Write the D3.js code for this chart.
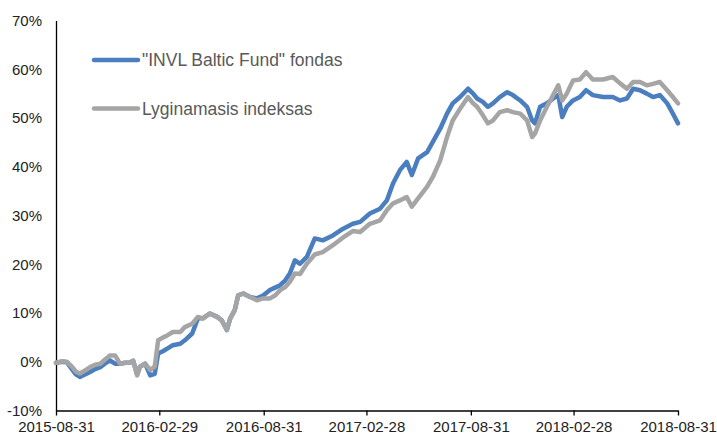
<!DOCTYPE html>
<html>
<head>
<meta charset="utf-8">
<script src="https://cdn.jsdelivr.net/npm/d3@7"></script>
<style>
  body { margin: 0; background: #fff; }
  svg { display: block; font-family: Arial, "Liberation Sans", sans-serif; }
</style>
</head>
<body>
<svg id="chart" width="717" height="438"></svg>
<script>
// values, % change since 2015-08-31
const dates = [
  '2015-08-31', '2015-09-11', '2015-09-19', '2015-09-28', '2015-10-05', '2015-10-12', '2015-10-21', '2015-10-30',
  '2015-11-08', '2015-11-17', '2015-11-25', '2015-12-04', '2015-12-13', '2015-12-22', '2015-12-31', '2016-01-08',
  '2016-01-14', '2016-01-21', '2016-01-26', '2016-02-04', '2016-02-13', '2016-02-21', '2016-02-27', '2016-03-07',
  '2016-03-14', '2016-03-24', '2016-04-06', '2016-04-14', '2016-04-27', '2016-05-07', '2016-05-16', '2016-05-28',
  '2016-06-10', '2016-06-18', '2016-06-27', '2016-07-03', '2016-07-11', '2016-07-17', '2016-07-26', '2016-08-07',
  '2016-08-19', '2016-08-30', '2016-09-11', '2016-09-20', '2016-09-29', '2016-10-08', '2016-10-16', '2016-10-25',
  '2016-11-03', '2016-11-15', '2016-11-29', '2016-12-13', '2016-12-31', '2017-01-18', '2017-02-04', '2017-02-17',
  '2017-03-06', '2017-03-24', '2017-04-05', '2017-04-16', '2017-04-28', '2017-05-10', '2017-05-19', '2017-05-30',
  '2017-06-15', '2017-06-25', '2017-07-08', '2017-07-20', '2017-07-30', '2017-08-12', '2017-08-26', '2017-09-04',
  '2017-09-11', '2017-09-21', '2017-09-30', '2017-10-09', '2017-10-21', '2017-11-03', '2017-11-13', '2017-11-26',
  '2017-12-08', '2017-12-17', '2017-12-22', '2017-12-31', '2018-01-12', '2018-01-23', '2018-02-01', '2018-02-08',
  '2018-02-16', '2018-02-27', '2018-03-11', '2018-03-22', '2018-04-03', '2018-04-21', '2018-05-08', '2018-05-21',
  '2018-06-02', '2018-06-13', '2018-06-25', '2018-07-07', '2018-07-18', '2018-07-30', '2018-08-12', '2018-08-22',
  '2018-08-31',
]
const fund = [
  -0.2, 0.0, -0.1, -1.5, -2.6, -3.1, -2.6, -2.1,
  -1.5, -1.1, -0.4, 0.3, -0.4, -0.4, -0.2, -0.2,
  0.2, -2.6, -1.0, -0.4, -2.8, -2.5, 1.7, 2.2,
  2.7, 3.4, 3.7, 4.4, 5.8, 8.9, 8.9, 9.9,
  9.2, 8.5, 6.5, 8.9, 10.6, 13.6, 14.0, 13.3,
  13.0, 13.6, 14.7, 15.2, 15.7, 16.7, 18.1, 20.8,
  20.1, 21.5, 25.3, 24.9, 25.9, 27.3, 28.3, 28.7,
  30.4, 31.4, 33.1, 36.6, 39.3, 41.0, 38.3, 41.7,
  43.0, 45.1, 47.8, 50.9, 53.0, 54.3, 56.0, 55.0,
  54.0, 53.3, 52.3, 53.0, 54.3, 55.3, 54.7, 53.6,
  52.3, 49.5, 48.9, 52.3, 53.0, 54.0, 54.7, 50.2,
  52.3, 53.6, 54.3, 55.7, 54.7, 54.3, 54.3, 53.6,
  54.0, 56.0, 55.7, 55.0, 54.3, 54.7, 53.0, 50.9,
  48.9,
]
const benchmark = [
  -0.2, 0.1, 0.0, -1.0, -2.0, -2.4, -1.8, -1.1,
  -0.6, -0.4, 0.4, 1.3, 1.3, -0.4, -0.2, -0.2,
  0.2, -2.8, -1.0, -0.4, -1.7, -1.0, 4.4, 5.0,
  5.4, 6.1, 6.1, 7.1, 7.8, 9.2, 8.9, 9.9,
  9.2, 8.5, 6.5, 8.9, 10.6, 13.6, 14.0, 13.3,
  12.6, 13.0, 13.0, 13.6, 14.7, 15.3, 16.4, 18.1,
  18.0, 20.1, 22.0, 22.5, 23.9, 25.5, 26.8, 26.6,
  28.3, 29.0, 31.1, 32.5, 33.1, 33.8, 31.8, 33.5,
  35.9, 37.9, 41.3, 46.1, 49.5, 51.9, 54.3, 53.0,
  52.3, 50.6, 48.9, 49.5, 51.2, 51.6, 51.2, 50.9,
  49.5, 46.1, 46.8, 49.5, 52.3, 54.7, 56.7, 53.6,
  55.0, 57.7, 57.9, 59.4, 57.9, 57.9, 58.4, 57.1,
  56.0, 57.4, 57.4, 56.7, 57.0, 57.4, 55.7, 54.3,
  53.0,
]
const xTicks = ['2015-08-31', '2016-02-29', '2016-08-31', '2017-02-28', '2017-08-31', '2018-02-28', '2018-08-31']
const yTicks = [-10, 0, 10, 20, 30, 40, 50, 60, 70]
const seriesNames = ['"INVL Baltic Fund" fondas', 'Lyginamasis indeksas']

const parse = d3.utcParse('%Y-%m-%d')
const fmt = d3.utcFormat('%Y-%m-%d')
const margin = {top: 20.5, right: 39, bottom: 27.5, left: 56}
const width = 717
const height = 438

const svg = d3.select('#chart')

const x = d3.scaleUtc()
  .domain([parse(xTicks[0]), parse(xTicks[xTicks.length - 1])])
  .range([margin.left, width - margin.right])
const y = d3.scaleLinear()
  .domain([-10, 70])
  .range([height - margin.bottom, margin.top])

// axes
const xAxis = svg.append('g')
  .attr('transform', `translate(0,${y(-10)})`)
  .call(d3.axisBottom(x)
    .tickValues(xTicks.map(parse))
    .tickFormat(fmt)
    .tickSize(5)
    .tickSizeOuter(0)
    .tickPadding(6))
xAxis.selectAll('text').attr('font-size', 15).attr('fill', '#222')
xAxis.selectAll('line, path').attr('stroke', '#000').attr('stroke-width', 1.3)

const yAxis = svg.append('g')
  .attr('transform', `translate(${margin.left},0)`)
  .call(d3.axisLeft(y)
    .tickValues(yTicks)
    .tickFormat(d => d + '%')
    .tickSize(0)
    .tickSizeOuter(0)
    .tickPadding(14))
yAxis.selectAll('text').attr('font-size', 15).attr('fill', '#222')
yAxis.select('.domain').attr('stroke', '#000').attr('stroke-width', 1.3)
svg.selectAll('.tick text').attr('font-family', 'Arial, "Liberation Sans", sans-serif')

// lines, benchmark drawn last so it sits on top
const series = [
  {name: seriesNames[0], values: fund, color: '#4a7ebf'},
  {name: seriesNames[1], values: benchmark, color: '#a5a5a5'},
]
const line = d3.line()
  .x((d, i) => x(parse(dates[i])))
  .y(d => y(d))

svg.append('g').selectAll('path')
  .data(series)
  .join('path')
  .attr('d', d => line(d.values))
  .attr('fill', 'none')
  .attr('stroke', d => d.color)
  .attr('stroke-width', 4.5)
  .attr('stroke-linejoin', 'round')
  .attr('stroke-linecap', 'round')

// legend
const legend = svg.append('g').attr('transform', 'translate(94,60)')
const item = legend.selectAll('g')
  .data(series)
  .join('g')
  .attr('transform', (d, i) => `translate(0,${i * 48.5})`)
item.append('line')
  .attr('x1', 0).attr('x2', 44)
  .attr('stroke', d => d.color)
  .attr('stroke-width', 4.5)
  .attr('stroke-linecap', 'round')
item.append('text')
  .attr('x', 48)
  .attr('dy', '0.35em')
  .attr('font-size', 17.5)
  .attr('fill', '#595959')
  .text(d => d.name)
</script>
</body>
</html>
